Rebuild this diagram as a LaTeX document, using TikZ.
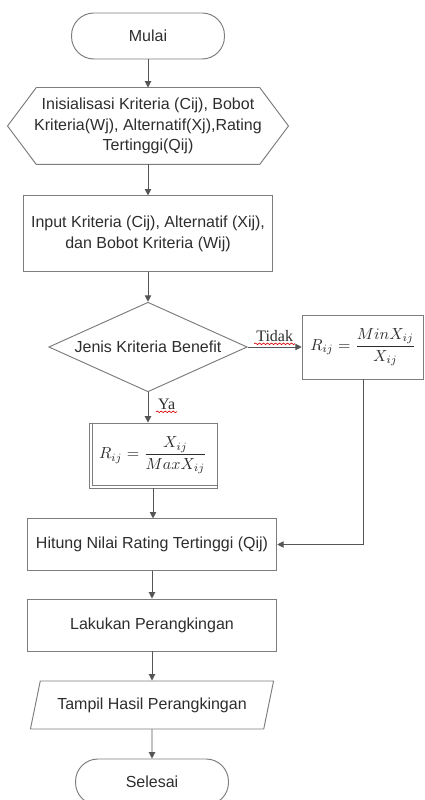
\documentclass[tikz,border=0pt]{standalone}
\usepackage{fontspec}
\setmainfont{Liberation Sans}
\newfontfamily\labelfont{Liberation Serif}
\usetikzlibrary{shapes.geometric,arrows.meta,decorations.pathmorphing}

\definecolor{linegray}{RGB}{85,85,85}
\definecolor{boxgray}{RGB}{125,125,125}
\definecolor{textgray}{RGB}{45,45,45}

\tikzset{
  base/.style={draw=boxgray, line width=0.6pt, text=textgray, align=center,
    font=\fontsize{10}{13}\selectfont, inner sep=2pt},
  terminal/.style={base, rounded corners=14pt, minimum width=95.6pt, minimum height=28.75pt},
  process/.style={base, rectangle, minimum width=156pt, minimum height=32pt},
  decision/.style={base, diamond, aspect=2.2, minimum width=124pt, minimum height=56pt, inner sep=0pt},
  io/.style={base, trapezium, trapezium left angle=68, trapezium right angle=112,
    trapezium stretches=true, minimum width=152pt, minimum height=30pt},
  formula/.style={base, rectangle},
  hexline/.style={draw=boxgray, line width=0.6pt},
  arrow/.style={->, draw=linegray, line width=0.6pt},
  branch/.style={text=textgray, inner sep=1pt, font=\labelfont\fontsize{10}{12}\selectfont},
  squiggle/.style={red!85!black, line width=0.4pt, decorate,
    decoration={snake, amplitude=0.5pt, segment length=2.5pt}}
}

\begin{document}
\begin{tikzpicture}[x=0.625pt, y=-0.625pt, >={Triangle[length=4pt,width=4pt]}]
    \useasboundingbox (0,0) rectangle (425,800);

        \node[terminal] (mulai) at (148,36) {Mulai};
        \node[base, draw=none, minimum width=175pt, minimum height=47.5pt] (init) at (148,126)
            {Inisialisasi Kriteria (Cij), Bobot\\ Kriteria(Wj), Alternatif(Xj),Rating\\ Tertinggi(Qij)};
        \draw[hexline] ([xshift=18pt]init.north west) -- ([xshift=-18pt]init.north east) -- (init.east)
            -- ([xshift=-18pt]init.south east) -- ([xshift=18pt]init.south west) -- (init.west) -- cycle;
        \node[process, minimum height=47pt] (input) at (148,233.5)
            {Input Kriteria (Cij), Alternatif (Xij),\\ dan Bobot Kriteria (Wij)};
        \node[decision] (jenis) at (148,347) {Jenis Kriteria Benefit};
        \node[formula, minimum width=76pt, minimum height=40pt] (rmin) at (363,347)
            {$\displaystyle R_{ij} = \frac{MinX_{ij}}{X_{ij}}$};
        \node[formula, minimum width=80pt, minimum height=40.6pt] (rmax) at (153,455.5)
            {$\displaystyle R_{ij} = \frac{X_{ij}}{MaxX_{ij}}$};
        \draw[hexline] ([xshift=2.5pt]rmax.north west) -- ([shift={(2.5pt,2pt)}]rmax.south west)
            -- ([yshift=2pt]rmax.south east);
        \node[process] (hitung) at (152,544.5) {Hitung Nilai Rating Tertinggi (Qij)};
        \node[process, minimum height=32.5pt] (lakukan) at (152,625) {Lakukan Perangkingan};
        \node[io] (tampil) at (152,705) {Tampil Hasil Perangkingan};
        \node[terminal] (selesai) at (152,782) {Selesai};

        \draw[arrow] (mulai) -- (init.north);
        \draw[arrow] (init.south) -- (input);
        \draw[arrow] (input) -- (jenis);
        \draw[arrow] (jenis) -- (rmin) node[branch, midway, above=2pt] (tidak) {Tidak};
        \draw[arrow] (jenis.south) -- (jenis.south |- rmax.north) node[branch, pos=0.4, right=5pt] (ya) {Ya};
        \draw[arrow] (rmax.south) -- (rmax.south |- hitung.north);
        \draw[arrow] (rmin) |- (hitung);
        \draw[arrow] (hitung) -- (lakukan);
        \draw[arrow] (lakukan) -- (tampil);
        \draw[arrow] (tampil) -- (selesai);
        \draw[squiggle] (tidak.south west) -- (tidak.south east);
        \draw[squiggle] (ya.south west) -- (ya.south east);
    \end{tikzpicture}
\end{document}
